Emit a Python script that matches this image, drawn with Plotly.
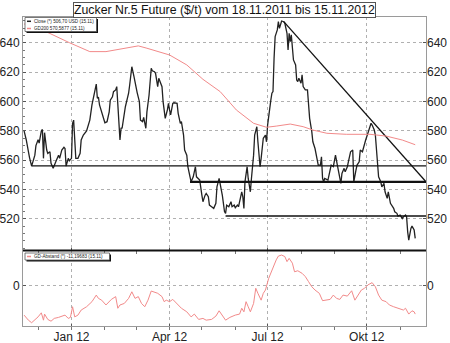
import plotly.graph_objects as go

# ---------------- data ----------------
close_dates = [
    "2011-11-18","2011-11-20","2011-11-23","2011-11-25","2011-11-28","2011-11-29",
    "2011-12-01","2011-12-02","2011-12-04","2011-12-05","2011-12-06","2011-12-07",
    "2011-12-09","2011-12-10","2011-12-12","2011-12-13","2011-12-15","2011-12-16",
    "2011-12-18","2011-12-20","2011-12-21","2011-12-23","2011-12-25","2011-12-26",
    "2011-12-27","2011-12-29","2011-12-30","2012-01-01","2012-01-02","2012-01-03",
    "2012-01-04","2012-01-05","2012-01-07","2012-01-09","2012-01-10","2012-01-12",
    "2012-01-15","2012-01-18","2012-01-20","2012-01-22","2012-01-24","2012-01-25",
    "2012-01-26","2012-01-27","2012-01-30","2012-02-01","2012-02-03","2012-02-05",
    "2012-02-06","2012-02-08","2012-02-09","2012-02-11","2012-02-12","2012-02-13",
    "2012-02-14","2012-02-15","2012-02-16","2012-02-17","2012-02-20","2012-02-23",
    "2012-02-24","2012-02-26","2012-02-28","2012-03-01","2012-03-02","2012-03-04",
    "2012-03-05","2012-03-07","2012-03-08","2012-03-10","2012-03-11","2012-03-13",
    "2012-03-15","2012-03-16","2012-03-18","2012-03-19","2012-03-21","2012-03-22",
    "2012-03-23","2012-03-25","2012-03-26","2012-03-28","2012-03-30","2012-03-31",
    "2012-04-01","2012-04-02","2012-04-04","2012-04-05","2012-04-08","2012-04-09",
    "2012-04-11","2012-04-12","2012-04-14","2012-04-15","2012-04-17","2012-04-18",
    "2012-04-20","2012-04-21","2012-04-23","2012-04-25","2012-04-26","2012-04-28",
    "2012-04-29","2012-05-01","2012-05-02","2012-05-04","2012-05-05","2012-05-07",
    "2012-05-08","2012-05-10","2012-05-12","2012-05-14","2012-05-15","2012-05-17",
    "2012-05-18","2012-05-20","2012-05-22","2012-05-23","2012-05-24","2012-05-26",
    "2012-05-28","2012-05-29","2012-05-31","2012-06-01","2012-06-03","2012-06-04",
    "2012-06-06","2012-06-07","2012-06-08","2012-06-09","2012-06-10","2012-06-12",
    "2012-06-13","2012-06-15","2012-06-16","2012-06-18","2012-06-19","2012-06-21",
    "2012-06-22","2012-06-24","2012-06-25","2012-06-27","2012-06-29","2012-06-30",
    "2012-07-01","2012-07-02","2012-07-04","2012-07-05","2012-07-06","2012-07-07",
    "2012-07-08","2012-07-10","2012-07-11","2012-07-12","2012-07-14","2012-07-16",
    "2012-07-17","2012-07-19","2012-07-20","2012-07-21","2012-07-22","2012-07-23",
    "2012-07-24","2012-07-25","2012-07-27","2012-07-28","2012-07-29","2012-07-30",
    "2012-08-01","2012-08-02","2012-08-03","2012-08-05","2012-08-07","2012-08-08",
    "2012-08-09","2012-08-11","2012-08-12","2012-08-14","2012-08-16","2012-08-17",
    "2012-08-19","2012-08-20","2012-08-21","2012-08-22","2012-08-23","2012-08-26",
    "2012-08-28","2012-08-29","2012-08-31","2012-09-01","2012-09-02","2012-09-04",
    "2012-09-05","2012-09-07","2012-09-08","2012-09-10","2012-09-11","2012-09-13",
    "2012-09-14","2012-09-16","2012-09-18","2012-09-19","2012-09-21","2012-09-22",
    "2012-09-24","2012-09-25","2012-09-27","2012-09-28","2012-09-30","2012-10-01",
    "2012-10-03","2012-10-05","2012-10-06","2012-10-08","2012-10-09","2012-10-10",
    "2012-10-11","2012-10-12","2012-10-14","2012-10-15","2012-10-17","2012-10-18",
    "2012-10-20","2012-10-21","2012-10-23","2012-10-24","2012-10-26","2012-10-27",
    "2012-10-29","2012-10-30","2012-11-01","2012-11-03","2012-11-04","2012-11-06",
    "2012-11-07","2012-11-08","2012-11-09","2012-11-11","2012-11-12","2012-11-14",
    "2012-11-15",
]
close_values = [
    580.0,574.0,562.0,556.0,563.5,570.0,
    574.0,571.7,580.0,581.0,561.3,578.8,
    567.0,564.7,565.8,557.9,554.5,556.0,
    560.0,563.5,561.3,567.0,568.8,568.0,
    556.0,561.3,559.6,561.3,585.2,587.4,
    576.0,561.3,561.3,564.7,573.8,577.2,
    580.0,587.4,597.7,604.5,612.0,602.3,
    603.0,597.7,589.7,585.6,586.3,593.0,
    601.0,603.3,606.8,608.0,610.2,596.5,
    582.5,573.8,581.8,582.0,596.5,605.7,
    611.3,623.8,617.0,608.0,606.0,600.0,
    587.4,586.3,589.3,581.8,593.0,604.5,
    622.7,621.0,620.4,619.3,610.2,615.9,
    613.6,610.2,600.0,588.6,594.3,598.8,
    594.3,590.9,598.8,599.2,598.8,592.0,
    585.2,586.3,577.2,567.0,563.5,555.6,
    548.7,545.3,548.7,555.6,548.7,547.6,
    546.5,536.2,531.7,536.2,537.4,535.1,
    529.4,528.3,527.2,530.6,541.9,547.6,
    544.2,536.0,525.0,523.8,529.4,528.3,
    531.7,528.3,529.4,527.6,529.4,528.3,
    535.1,538.5,535.1,527.2,545.3,555.6,
    547.6,538.5,547.6,563.5,577.2,582.9,
    572.6,555.6,561.3,575.0,577.2,572.6,
    584.0,590.9,601.0,605.7,606.8,629.6,
    644.3,648.9,654.5,650.0,655.0,654.5,
    653.4,646.6,635.2,646.6,640.9,645.5,
    634.1,628.4,625.0,614.7,613.6,615.9,
    612.5,618.2,610.2,608.0,608.0,597.7,
    588.6,579.5,572.6,568.0,561.3,556.7,
    556.7,562.4,547.6,545.3,547.6,546.5,
    553.3,556.7,555.6,561.3,563.5,555.6,
    552.2,544.2,551.0,554.5,552.2,555.6,
    559.0,565.8,567.0,545.3,553.3,556.7,
    559.0,567.0,565.8,569.2,573.8,576.0,
    580.6,585.2,584.0,580.6,577.2,567.0,
    555.6,548.7,545.3,541.9,544.2,538.5,
    534.0,538.5,530.6,529.4,527.2,524.9,
    523.8,521.9,522.6,520.3,521.4,522.6,
    521.4,511.2,505.5,513.5,515.1,512.4,
    506.7,
]

gd200_dates = [
    "2011-11-18","2011-12-09","2011-12-30","2012-01-18","2012-02-02","2012-02-15",
    "2012-02-27","2012-03-03","2012-03-11","2012-03-17","2012-04-01","2012-04-17",
    "2012-05-02","2012-05-18","2012-06-02","2012-06-18","2012-06-30","2012-07-09",
    "2012-07-22","2012-08-03","2012-08-12","2012-08-25","2012-09-12","2012-10-04",
    "2012-10-19","2012-11-03","2012-11-15",
]
gd200_values = [
    653.0,647.5,640.2,634.1,634.1,635.7,
    637.5,638.0,636.4,635.2,631.8,625.0,
    615.2,606.8,594.3,585.2,582.5,583.3,
    584.7,582.9,580.6,578.4,577.7,577.7,
    576.5,573.8,570.6,
]

gd_abst_dates = [
    "2011-11-18","2011-11-22","2011-11-25","2011-11-28","2011-12-01","2011-12-04",
    "2011-12-06","2011-12-07","2011-12-10","2011-12-13","2011-12-16","2011-12-20",
    "2011-12-23","2011-12-26","2011-12-29","2011-12-31","2012-01-02","2012-01-04",
    "2012-01-07","2012-01-10","2012-01-15","2012-01-20","2012-01-24","2012-01-26",
    "2012-01-29","2012-02-02","2012-02-07","2012-02-11","2012-02-13","2012-02-15",
    "2012-02-19","2012-02-23","2012-02-26","2012-02-29","2012-03-03","2012-03-06",
    "2012-03-09","2012-03-12","2012-03-15","2012-03-18","2012-03-21","2012-03-25",
    "2012-03-27","2012-03-29","2012-04-01","2012-04-04","2012-04-08","2012-04-12",
    "2012-04-17","2012-04-21","2012-04-24","2012-04-28","2012-05-02","2012-05-05",
    "2012-05-10","2012-05-14","2012-05-17","2012-05-20","2012-05-23","2012-05-27",
    "2012-06-01","2012-06-05","2012-06-07","2012-06-09","2012-06-11","2012-06-13",
    "2012-06-15","2012-06-18","2012-06-20","2012-06-22","2012-06-25","2012-06-27",
    "2012-06-29","2012-07-02","2012-07-04","2012-07-06","2012-07-09","2012-07-11",
    "2012-07-14","2012-07-17","2012-07-19","2012-07-21","2012-07-24","2012-07-26",
    "2012-07-29","2012-08-02","2012-08-05","2012-08-08","2012-08-11","2012-08-14",
    "2012-08-18","2012-08-21","2012-08-25","2012-08-28","2012-08-31","2012-09-03",
    "2012-09-06","2012-09-09","2012-09-13","2012-09-17","2012-09-20","2012-09-23",
    "2012-09-26","2012-09-29","2012-10-02","2012-10-06","2012-10-09","2012-10-12",
    "2012-10-15","2012-10-19","2012-10-22","2012-10-26","2012-10-30","2012-11-04",
    "2012-11-06","2012-11-09","2012-11-12","2012-11-14","2012-11-15",
]
gd_abst_values = [
    -11.6,-13.6,-14.6,-13.6,-12.3,-10.7,
    -13.6,-11.2,-13.3,-14.0,-12.9,-12.5,
    -12.0,-11.6,-12.9,-12.5,-8.3,-12.3,
    -11.6,-9.6,-8.3,-6.3,-3.7,-5.0,
    -5.7,-7.6,-5.4,-4.3,-8.9,-7.6,
    -7.0,-5.0,-2.4,-5.0,-4.3,-7.0,
    -8.3,-5.7,-2.1,-2.6,-3.0,-4.3,
    -6.3,-5.7,-6.3,-5.4,-7.0,-8.9,
    -10.3,-12.3,-11.2,-13.3,-12.9,-13.6,
    -13.3,-12.0,-9.9,-11.6,-13.6,-12.5,
    -11.6,-11.2,-8.9,-10.3,-6.3,-8.3,
    -10.3,-7.0,-1.0,-3.0,-5.7,-3.0,
    -1.7,2.9,4.9,7.5,10.2,11.7,
    12.1,11.5,9.5,10.8,8.9,5.5,
    5.9,4.9,3.6,1.6,-0.4,-1.7,
    -3.0,-5.9,-5.7,-5.4,-3.7,-5.0,
    -5.4,-3.7,-4.1,-2.0,-5.7,-3.7,
    -1.7,-1.0,0.3,1.2,-0.4,-3.7,
    -5.7,-6.3,-7.6,-8.3,-8.9,-9.6,
    -8.9,-11.2,-9.9,-10.3,-11.2,
]

# drawn support / resistance lines (start date, level) extending to the right edge
hline_starts = ["2011-11-25", "2012-04-20", "2012-05-23"]
hline_levels = [556.2, 545.3, 522.0]
trend_dates = ["2012-07-16", "2012-11-25"]
trend_values = [654.5, 545.3]

x_tickvals = ["2012-01-01", "2012-04-01", "2012-07-01", "2012-10-01"]
x_ticktext = ["Jan 12", "Apr 12", "Jul 12", "Okt 12"]
main_ticks = [520, 540, 560, 580, 600, 620, 640]
low_ticks = [0]

title_text = "Zucker Nr.5 Future ($/t) vom 18.11.2011 bis 15.11.2012"
legend_close = "Close (*) 506,70 USD (15.11)"
legend_gd = "GD200 570,5877 (15.11)"
legend_abst = "GD-Abstand (*) -11,19683 (15.11)"

# ---------------- layout helpers ----------------
W, H = 450, 343
L, R, T, B = 23, 24, 17, 17
PW, PH = W - L - R, H - T - B


def fx(px):
    return (px - L) / PW


def fy(py):
    return (H - B - py) / PH


X_RANGE = ["2011-11-17", "2012-11-25"]
MAIN_RANGE = [498.8, 657.7]
LOW_RANGE = [-15.9, 13.7]
FONT = "Liberation Sans, Arial, sans-serif"
RED = "#f28a8a"
GRID = "#b0b0b0"
AXC = "#9a9a9a"

fig = go.Figure()

fig.add_trace(go.Scatter(x=gd200_dates, y=gd200_values, mode="lines",
                         line=dict(color=RED, width=1), xaxis="x", yaxis="y3",
                         hoverinfo="skip"))
fig.add_trace(go.Scatter(x=close_dates, y=close_values, mode="lines",
                         line=dict(color="#222222", width=1.3), xaxis="x", yaxis="y",
                         hoverinfo="skip"))
for i, (s, lv) in enumerate(zip(hline_starts, hline_levels)):
    fig.add_trace(go.Scatter(x=[s, X_RANGE[1]], y=[lv, lv], mode="lines",
                             line=dict(color="#111111", width=2.2 if i == 1 else 1.4),
                             xaxis="x", yaxis="y", hoverinfo="skip"))
fig.add_trace(go.Scatter(x=trend_dates, y=trend_values, mode="lines",
                         line=dict(color="#111111", width=1.3), xaxis="x", yaxis="y",
                         hoverinfo="skip"))
fig.add_trace(go.Scatter(x=gd_abst_dates, y=gd_abst_values, mode="lines",
                         line=dict(color=RED, width=1), xaxis="x2", yaxis="y2",
                         hoverinfo="skip"))
# invisible helper so the right-hand lower axis is drawn
fig.add_trace(go.Scatter(x=gd_abst_dates, y=gd_abst_values, mode="lines",
                         line=dict(color="rgba(0,0,0,0)", width=0), xaxis="x2", yaxis="y4",
                         hoverinfo="skip"))

main_dom = [fy(250), 1.0]
low_dom = [0.0, fy(251)]

TICKFONT = dict(family=FONT, size=12, color="#222")

common_x = dict(type="date", range=X_RANGE, tickvals=x_tickvals, ticktext=x_ticktext,
                showgrid=True, gridcolor=GRID, griddash="dot", gridwidth=1,
                showline=True, linecolor=AXC, linewidth=1, mirror=True,
                ticks="inside", ticklen=2, tickcolor="#555",
                minor=dict(tick0="2011-12-01", dtick="M1", ticks="outside", ticklen=3,
                           tickcolor="#777", showgrid=False),
                tickfont=TICKFONT, zeroline=False, automargin=False)

fig.update_layout(
    width=W, height=H, margin=dict(l=L, r=R, t=T, b=B, autoexpand=False),
    paper_bgcolor="white", plot_bgcolor="white", showlegend=False,
    xaxis=dict(common_x, anchor="y", domain=[0, 1], showticklabels=False),
    xaxis2=dict(common_x, anchor="y2", domain=[0, 1], showticklabels=True),
    yaxis=dict(domain=main_dom, range=MAIN_RANGE, tickvals=main_ticks, side="left",
               showgrid=True, gridcolor=GRID, griddash="dot", zeroline=False,
               showline=True, linecolor=AXC, mirror=True, ticks="inside", ticklen=3,
               tickcolor="#555", minor=dict(dtick=5, ticks="inside", ticklen=2, tickcolor="#777"),
               tickfont=TICKFONT, automargin=False, anchor="x"),
    yaxis3=dict(overlaying="y", range=MAIN_RANGE, tickvals=main_ticks, side="right",
                showgrid=False, zeroline=False, ticks="inside", ticklen=3, tickcolor="#555",
                tickfont=TICKFONT, anchor="x", automargin=False),
    yaxis2=dict(domain=low_dom, range=LOW_RANGE, tickvals=low_ticks, side="left",
                showgrid=True, gridcolor=GRID, griddash="dot", zeroline=False,
                showline=True, linecolor=AXC, mirror=True, ticks="inside", ticklen=3,
                tickcolor="#555", anchor="x2", tickfont=TICKFONT, automargin=False),
    yaxis4=dict(overlaying="y2", range=LOW_RANGE, tickvals=low_ticks, side="right",
                showgrid=False, zeroline=False, ticks="inside", ticklen=3, tickcolor="#555",
                tickfont=TICKFONT, anchor="x2", automargin=False),
)

shapes = []
# separator between panels
shapes.append(dict(type="line", xref="paper", yref="paper", x0=0, x1=1,
                   y0=fy(250.5), y1=fy(250.5), line=dict(color="#111", width=2)))


def legend_box(x0, x1, y0, y1):
    return [
        dict(type="rect", xref="paper", yref="paper", x0=fx(x0 + 1.5), x1=fx(x1 + 1.5),
             y0=fy(y1 + 1.5), y1=fy(y0 + 1.5), fillcolor="#111", line=dict(width=0)),
        dict(type="rect", xref="paper", yref="paper", x0=fx(x0), x1=fx(x1),
             y0=fy(y1), y1=fy(y0), fillcolor="white", line=dict(color="#555", width=0.8)),
    ]


shapes += legend_box(25, 96.5, 17.5, 31.5)
shapes += legend_box(25, 109.5, 253, 260)
shapes.append(dict(type="line", xref="paper", yref="paper", x0=fx(27), x1=fx(31),
                   y0=fy(21.3), y1=fy(21.3), line=dict(color="#222", width=1.5)))
shapes.append(dict(type="line", xref="paper", yref="paper", x0=fx(27), x1=fx(31),
                   y0=fy(28.5), y1=fy(28.5), line=dict(color=RED, width=1.5)))
shapes.append(dict(type="line", xref="paper", yref="paper", x0=fx(27), x1=fx(31),
                   y0=fy(256.5), y1=fy(256.5), line=dict(color=RED, width=1.5)))
fig.update_layout(shapes=shapes)

ann = []
ann.append(dict(text=title_text, xref="paper", yref="paper", x=fx(225), y=fy(9.7),
                xanchor="center", yanchor="middle", showarrow=False,
                font=dict(family=FONT, size=12.3, color="#111"),
                bgcolor="white", bordercolor="#555", borderwidth=1, borderpad=0))
for txt, py in [(legend_close, 21.3), (legend_gd, 28.5), (legend_abst, 256.5)]:
    ann.append(dict(text=txt, xref="paper", yref="paper", x=fx(32), y=fy(py),
                    xanchor="left", yanchor="middle", showarrow=False,
                    font=dict(family=FONT, size=4.6, color="#222")))
fig.update_layout(annotations=ann)

fig.write_html("out.html")
